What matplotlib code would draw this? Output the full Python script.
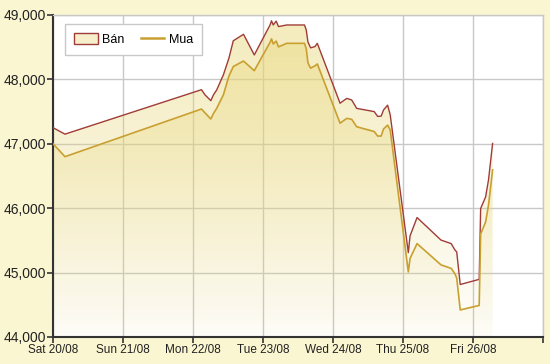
# Gold price chart (Bán / Mua) over one week, area lines with gradient fill
import matplotlib
matplotlib.use("Agg")
import matplotlib.pyplot as plt
from matplotlib.patches import Patch
from matplotlib.lines import Line2D
import numpy as np

# hours since Sat 20/08 00:00
hours = [0, 4.1, 50.9, 52.1, 54.1, 55.0, 56.1, 58.4, 60.3, 61.8, 65.3, 69.0,
         74.4, 74.9, 75.5, 76.5, 77.3, 80.1, 86.2, 86.8, 87.4, 88.3, 89.8, 90.6,
         98.4, 100.7, 102.4, 104.1, 110.1, 111.3, 112.5, 113.3, 114.7, 115.6,
         121.8, 122.4, 124.8, 133.0, 136.5, 137.8, 138.4, 139.6, 146.1, 146.6,
         148.3, 149.3, 150.7]
ban = [47250, 47150, 47840, 47760, 47670, 47760, 47835, 48070, 48330, 48600,
       48700, 48380, 48845, 48910, 48845, 48905, 48820, 48845, 48845, 48770,
       48580, 48490, 48510, 48560, 47630, 47705, 47680, 47550, 47500, 47425,
       47430, 47525, 47600, 47450, 45310, 45570, 45855, 45505, 45450, 45350,
       45320, 44815, 44895, 45995, 46175, 46440, 47005]
mua = [47000, 46800, 47540, 47480, 47385, 47470, 47550, 47760, 48050, 48200,
       48285, 48135, 48575, 48630, 48550, 48595, 48505, 48560, 48560, 48480,
       48255, 48175, 48210, 48240, 47320, 47395, 47380, 47265, 47190, 47120,
       47120, 47230, 47290, 47215, 45010, 45220, 45450, 45120, 45065, 44980,
       44915, 44420, 44490, 45600, 45785, 46050, 46595]
day_labels = ["Sat 20/08", "Sun 21/08", "Mon 22/08", "Tue 23/08",
              "Wed 24/08", "Thu 25/08", "Fri 26/08", ""]
y_ticks = [44000, 45000, 46000, 47000, 48000, 49000]

bg = "#FAF6D2"
red = "#A03C38"
gold = "#C9A030"

plt.rcParams['font.family'] = ['Liberation Sans', 'DejaVu Sans']
fig = plt.figure(figsize=(5.5, 3.64), dpi=100, facecolor=bg)
ax = fig.add_axes([0.0964, 0.0742, 0.891, 0.8846])
ax.set_facecolor("white")

ymin, ymax = 44000, 49000
xmin, xmax = 0, 168


def gradient_fill(x, y, rgb, a_top, a_bot, z):
    poly = ax.fill_between(x, y, ymin, facecolor="none", edgecolor="none")
    path = poly.get_paths()[0]
    grad = np.zeros((200, 1, 4))
    grad[:, :, 0] = rgb[0]
    grad[:, :, 1] = rgb[1]
    grad[:, :, 2] = rgb[2]
    grad[:, 0, 3] = np.linspace(a_bot, a_top, 200)
    im = ax.imshow(grad, aspect="auto", extent=[xmin, xmax, ymin, ymax],
                   origin="lower", zorder=z, interpolation="bilinear")
    im.set_clip_path(path, transform=ax.transData)


fill_rgb = (0.91, 0.84, 0.47)
gradient_fill(hours, ban, fill_rgb, 0.50, 0.03, 1)
gradient_fill(hours, mua, fill_rgb, 0.45, 0.03, 1.1)

ax.plot(hours, ban, color=red, lw=1.0, zorder=3)
ax.plot(hours, mua, color=gold, lw=1.2, zorder=3)

ax.set_xlim(xmin, xmax)
ax.set_ylim(ymin, ymax)
ax.set_xticks(np.arange(0, 169, 24))
ax.set_xticklabels(day_labels, fontsize=8.5, color="#222222")
ax.set_yticks(y_ticks)
ax.set_yticklabels([f"{v:,}" for v in y_ticks], fontsize=10, color="#222222")
ax.tick_params(axis="both", direction="out", length=4, width=1.2, color="#333333", pad=1)

ax.grid(True, color="#C8C8C8", lw=1.0, zorder=0)
ax.set_axisbelow(True)
for s in ["top", "right"]:
    ax.spines[s].set_color("#C8C8C8")
    ax.spines[s].set_linewidth(1.0)
for s in ["left", "bottom"]:
    ax.spines[s].set_color("#333333")
    ax.spines[s].set_linewidth(1.5)

handles = [Patch(facecolor="#F7EFCB", edgecolor=red, lw=1.0),
           Line2D([0], [0], color=gold, lw=1.8)]
leg = ax.legend(handles, ["Bán", "Mua"], loc="upper left", ncol=2,
                bbox_to_anchor=(0.0245, 0.972), borderaxespad=0, fontsize=9,
                frameon=True, fancybox=False, edgecolor="#C8C8C8", framealpha=1,
                handlelength=1.85, handleheight=0.9, columnspacing=1.35,
                borderpad=0.75, handletextpad=0.35)
leg.get_frame().set_linewidth(1.0)
leg.set_zorder(5)

fig.savefig("out.png", dpi=100, facecolor=bg)
